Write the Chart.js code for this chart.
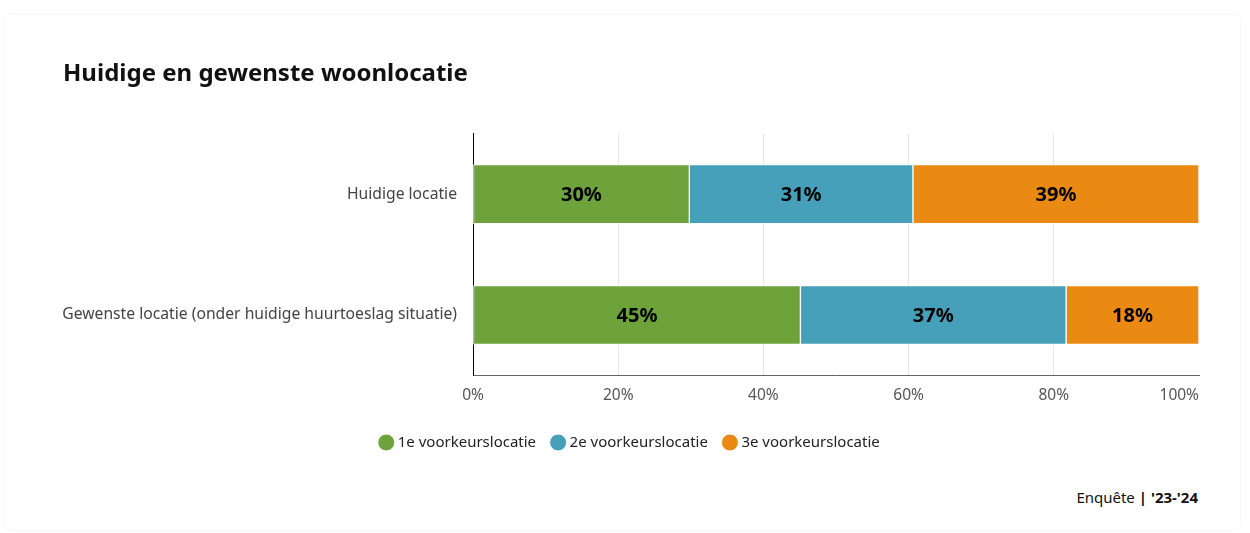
<!DOCTYPE html>
<html lang="nl">
<head>
<meta charset="utf-8">
<title>Huidige en gewenste woonlocatie</title>
<script src="https://cdn.jsdelivr.net/npm/chart.js@4.4.1/dist/chart.umd.min.js"></script>
<style>
    html, body {
        margin: 0;
        padding: 0;
        background: #ffffff;
        font-family: "Noto Sans", sans-serif;
    }
    .card {
        position: absolute;
        left: 5px;
        top: 15px;
        width: 1235px;
        height: 515px;
        border-radius: 6px;
        box-shadow: 0 0 3px rgba(0, 0, 0, 0.08);
        background: #fff;
    }
    .chart-wrap {
        position: absolute;
        left: 0;
        top: 0;
        width: 1250px;
        height: 470px;
    }
    .source {
        position: absolute;
        right: 52px;
        top: 487px;
        font-size: 15px;
        color: #111;
    }
    .source b {
        font-weight: 700;
    }
</style>
</head>
<body>
<div class="card"></div>
<div class="chart-wrap">
    <canvas id="locatieChart"></canvas>
</div>
<div class="source">Enquête <b>| '23-'24</b></div>

<script>
// chart data
const categories = ['Huidige locatie', 'Gewenste locatie (onder huidige huurtoeslag situatie)'];
const seriesNames = ['1e voorkeurslocatie', '2e voorkeurslocatie', '3e voorkeurslocatie'];
const eerste = [29.8, 45.1];
const tweede = [30.8, 36.6];
const derde = [39.4, 18.3];
const percentLabels = [
    ['30%', '45%'],
    ['31%', '37%'],
    ['39%', '18%']
];
const xTicks = [0, 20, 40, 60, 80, 100];

const colors = ['#6ea33c', '#47a0ba', '#eb8a12'];
const fontFamily = '"Noto Sans", sans-serif';

// draw the rounded percentage inside each bar segment
const barLabelPlugin = {
    id: 'barLabels',
    beforeDraw(chart) {
        // keep the last x tick label (100%) inside the plot, right aligned
        const items = chart.scales.x.getLabelItems(chart.chartArea);
        if (items.length) {
            items[items.length - 1].options.textAlign = 'right';
        }
    },
    afterDatasetsDraw(chart) {
        const ctx = chart.ctx;
        ctx.save();
        ctx.font = `bold 20px ${fontFamily}`;
        ctx.fillStyle = '#000';
        ctx.textAlign = 'center';
        ctx.textBaseline = 'middle';
        chart.data.datasets.forEach((dataset, i) => {
            const meta = chart.getDatasetMeta(i);
            meta.data.forEach((bar, j) => {
                const x = (bar.x + bar.base) / 2;
                ctx.fillText(percentLabels[i][j], x, bar.y + 1);
            });
        });
        ctx.restore();
    }
};

const datasets = [eerste, tweede, derde].map((values, i) => ({
    label: seriesNames[i],
    data: values,
    backgroundColor: colors[i],
    borderColor: '#ffffff',
    borderWidth: 1,
    borderSkipped: false,
    barThickness: 59
}));

const ctx = document.getElementById('locatieChart').getContext('2d');

new Chart(ctx, {
    type: 'bar',
    data: {
        labels: categories,
        datasets: datasets
    },
    options: {
        indexAxis: 'y',
        responsive: true,
        maintainAspectRatio: false,
        animation: false,
        layout: {
            padding: { top: 60, left: 63, right: 51, bottom: 10 }
        },
        scales: {
            x: {
                stacked: true,
                min: 0,
                max: 100,
                afterBuildTicks: scale => {
                    scale.ticks = xTicks.map(v => ({ value: v }));
                },
                afterFit: scale => {
                    scale.height += 1;
                },
                grid: {
                    color: c => (c.tick && c.tick.value === 100 ? 'rgba(0,0,0,0)' : '#e6e6e6'),
                    drawTicks: false
                },
                border: { color: '#666', width: 1 },
                ticks: {
                    padding: 11,
                    color: '#555',
                    font: { family: fontFamily, size: 15.5 },
                    callback: v => v + '%'
                }
            },
            y: {
                stacked: true,
                afterFit: scale => {
                    scale.width = 410;
                },
                grid: { display: false, drawTicks: false },
                border: { color: '#000', width: 1 },
                ticks: {
                    padding: 16,
                    color: '#444',
                    font: { family: fontFamily, size: 15.7 }
                }
            }
        },
        plugins: {
            title: {
                display: true,
                text: 'Huidige en gewenste woonlocatie',
                align: 'start',
                color: '#111',
                font: { family: fontFamily, size: 24, weight: 'bold' },
                padding: { top: 0, bottom: 45 }
            },
            legend: {
                position: 'bottom',
                labels: {
                    usePointStyle: true,
                    pointStyle: 'circle',
                    boxWidth: 8,
                    boxHeight: 12,
                    color: '#222',
                    padding: 18,
                    font: { family: fontFamily, size: 15 }
                }
            },
            tooltip: { enabled: false }
        }
    },
    plugins: [barLabelPlugin]
});
</script>
</body>
</html>
